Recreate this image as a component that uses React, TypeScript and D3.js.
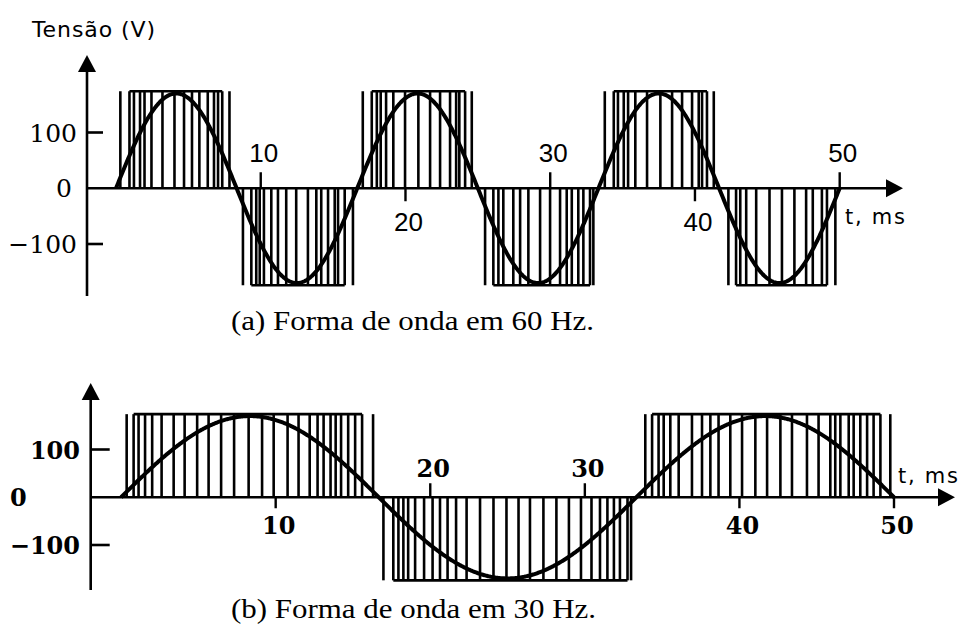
import React from 'react';
import * as d3 from 'd3';

const W = 967;
const H = 635;

// Time axis ticks (ms) and which side of the axis each tick/label sits on
const timeTicks = [10, 20, 30, 40, 50];
const tickSide60 = ['up', 'down', 'up', 'down', 'up'];
const tickSide30 = ['down', 'up', 'up', 'down', 'down'];
const voltTicks = [100, 0, -100];
const voltLabels = ['100', '0', '\u2212100'];

// Reference sine parameters
const SINE_AMP = 170; // V
const BUS_V = 174; // pulse height, V
const FREQ_60 = 60;
const FREQ_30 = 30;

// 60 Hz PWM: edge times (ms) for each half cycle
const pwm60Sign = [1, -1, 1, -1, 1, -1];
const pwm60Edges = [
  [0.30, 0.93, 1.24, 1.66, 1.97, 2.45, 3.21, 4.04, 4.70, 5.25, 5.76, 6.34, 6.77, 7.05, 7.34, 7.84],
  [8.77, 9.35, 9.69, 9.93, 10.22, 10.73, 11.19, 11.76, 12.45, 13.26, 13.84, 14.18, 14.65, 15.11, 15.34, 15.80, 16.37],
  [17.05, 17.67, 18.02, 18.29, 18.66, 19.16, 19.97, 20.89, 21.70, 22.39, 23.08, 23.50, 23.72, 24.12, 24.58],
  [25.50, 26.07, 26.42, 26.76, 27.45, 27.92, 28.49, 29.30, 29.99, 30.68, 31.14, 31.49, 31.94, 32.29, 32.75, 32.98],
  [33.77, 34.39, 34.68, 35.08, 35.38, 35.88, 36.69, 37.61, 38.42, 39.11, 39.80, 40.26, 40.49, 40.83, 41.30],
  [42.31, 42.84, 43.13, 43.54, 44.23, 45.15, 46.01, 46.87, 47.68, 48.14, 48.77, 49.12, 49.70],
];

// 30 Hz PWM: edge times (ms) for each half cycle
const pwm30Sign = [1, -1, 1];
const pwm30Edges = [
  [0.36, 0.81, 1.13, 1.55, 2.01, 2.62, 3.40, 4.11, 4.92, 5.66, 6.47, 7.31, 8.25, 9.12, 9.87, 10.77, 11.48, 12.20, 12.71, 13.10, 13.55, 13.88, 14.23, 14.69, 15.14, 15.59, 16.30],
  [16.97, 17.61, 17.94, 18.26, 18.57, 19.02, 19.60, 20.15, 20.63, 21.12, 21.67, 22.35, 23.22, 24.09, 24.93, 25.71, 26.45, 27.32, 28.16, 28.97, 29.75, 30.43, 30.98, 31.46, 31.88, 32.27, 32.76, 32.99],
  [33.91, 34.35, 34.77, 35.10, 35.53, 36.07, 36.93, 37.58, 38.12, 38.65, 39.41, 40.17, 41.03, 41.79, 42.65, 43.40, 44.37, 45.12, 45.88, 46.20, 46.53, 47.07, 47.39, 47.82, 48.26, 48.68, 49.12, 49.76],
];

type PanelProps = {
  x: d3.ScaleLinear<number, number>;
  y: d3.ScaleLinear<number, number>;
  freq: number;
  edges: number[][];
  signs: number[];
  tickSide: string[];
  axisX: number;
  yTop: number;
  yBottom: number;
  xEnd: number;
  tickUp: number;
  tickDown: number;
  labelUp: number;
  labelDown: number;
  yTickLen: number;
  yLabelRight: number;
  zeroLabelX: number;
  zeroAnchor: 'start' | 'end';
  yFont: React.CSSProperties;
  xFont: React.CSSProperties;
  tmsX: number;
  tmsY: number;
};

function Panel(p: PanelProps) {
  const { x, y } = p;
  const y0 = y(0);
  const sineData = d3.range(0, 50.001, 0.05);
  const line = d3
    .line<number>()
    .x((t) => x(t))
    .y((t) => y(SINE_AMP * Math.sin((2 * Math.PI * p.freq * t) / 1000)))
    .curve(d3.curveLinear);

  const ah = 9; // arrowhead half width
  const al = 17; // arrowhead length

  return (
    <g>
      {/* PWM pulses */}
      {p.edges.map((edges, i) => {
        const top = y(p.signs[i] * BUS_V);
        return (
          <g key={'pw' + i} stroke="#000" strokeWidth={2.6}>
            {edges.map((t, j) => (
              <line key={j} x1={x(t)} x2={x(t)} y1={y0} y2={top} />
            ))}
            <line x1={x(edges[1])} x2={x(edges[edges.length - 2])} y1={top} y2={top} strokeWidth={2.6} />
          </g>
        );
      })}

      {/* axes */}
      <g stroke="#000" strokeWidth={2.6} fill="none">
        <line x1={p.axisX} x2={p.axisX} y1={p.yBottom} y2={p.yTop + al - 2} />
        <line x1={p.axisX} x2={p.xEnd - al + 2} y1={y0} y2={y0} />
      </g>
      <path
        d={`M${p.axisX},${p.yTop} L${p.axisX - ah},${p.yTop + al} L${p.axisX + ah},${p.yTop + al} Z`}
        fill="#000"
      />
      <path d={`M${p.xEnd},${y0} L${p.xEnd - al},${y0 - ah} L${p.xEnd - al},${y0 + ah} Z`} fill="#000" />

      {/* sine reference */}
      <path d={line(sineData) || ''} fill="none" stroke="#000" strokeWidth={4} strokeLinejoin="round" />

      {/* voltage ticks */}
      {voltTicks.map((v, i) => (
        <g key={'v' + v}>
          {v !== 0 && (
            <line x1={p.axisX} x2={p.axisX + p.yTickLen} y1={y(v)} y2={y(v)} stroke="#000" strokeWidth={2.6} />
          )}
          <text
            x={v === 0 ? p.zeroLabelX : p.yLabelRight}
            y={y(v) + 9}
            textAnchor={v === 0 ? p.zeroAnchor : 'end'}
            style={p.yFont}
          >
            {voltLabels[i]}
          </text>
        </g>
      ))}

      {/* time ticks */}
      {timeTicks.map((t, i) => {
        const up = p.tickSide[i] === 'up';
        return (
          <g key={'t' + t}>
            <line
              x1={x(t)}
              x2={x(t)}
              y1={y0}
              y2={up ? y0 - p.tickUp : y0 + p.tickDown}
              stroke="#000"
              strokeWidth={2.4}
            />
            <text x={x(t) + 3} y={up ? y0 - p.labelUp : y0 + p.labelDown} textAnchor="middle" style={p.xFont}>
              {t}
            </text>
          </g>
        );
      })}
      <text x={p.tmsX} y={p.tmsY} style={{ fontFamily: 'DejaVu Sans', fontSize: 21 }} textLength={60}>
        t, ms
      </text>
    </g>
  );
}

export default function App() {
  const x60 = d3.scaleLinear().domain([0, 50]).range([116, 839.7]);
  const y60 = d3.scaleLinear().domain([-100, 100]).range([244, 132.5]);
  const x30 = d3.scaleLinear().domain([0, 50]).range([121.1, 894]);
  const y30 = d3.scaleLinear().domain([-100, 100]).range([545, 449.5]);

  const serifNum: React.CSSProperties = { fontFamily: 'DejaVu Serif', fontSize: 25 };
  const serifNumBold: React.CSSProperties = { fontFamily: 'DejaVu Serif', fontSize: 24, fontWeight: 'bold' };
  const xNum30: React.CSSProperties = { fontFamily: 'DejaVu Serif', fontSize: 24, fontWeight: 600 };
  const sansNum: React.CSSProperties = { fontFamily: 'Liberation Sans', fontSize: 26 };
  const caption: React.CSSProperties = { fontFamily: 'Liberation Serif', fontSize: 27 };

  return (
    <svg
      width={W}
      height={H}
      viewBox={`0 0 ${W} ${H}`}
      style={{ position: 'absolute', left: 0, top: 0, background: '#fff' }}
    >
      <rect width={W} height={H} fill="#fff" />
      <text x={32} y={37} style={{ fontFamily: 'DejaVu Sans', fontSize: 22 }} textLength={123}>
        Tensão (V)
      </text>

      <Panel
        x={x60}
        y={y60}
        freq={FREQ_60}
        edges={pwm60Edges}
        signs={pwm60Sign}
        tickSide={tickSide60}
        axisX={87}
        yTop={55}
        yBottom={296}
        xEnd={903}
        tickUp={16}
        tickDown={13}
        labelUp={26}
        labelDown={43}
        yTickLen={16}
        yLabelRight={77}
        zeroLabelX={72}
        zeroAnchor="end"
        yFont={serifNum}
        xFont={sansNum}
        tmsX={845}
        tmsY={224}
      />
      <text x={231} y={330} style={caption} textLength={363} lengthAdjust="spacingAndGlyphs">
        (a) Forma de onda em 60 Hz.
      </text>

      <Panel
        x={x30}
        y={y30}
        freq={FREQ_30}
        edges={pwm30Edges}
        signs={pwm30Sign}
        tickSide={tickSide30}
        axisX={90.7}
        yTop={383}
        yBottom={590}
        xEnd={955}
        tickUp={14}
        tickDown={11}
        labelUp={20}
        labelDown={37}
        yTickLen={19}
        yLabelRight={80}
        zeroLabelX={10}
        zeroAnchor="start"
        yFont={serifNumBold}
        xFont={xNum30}
        tmsX={898}
        tmsY={483}
      />
      <text x={231} y={618} style={caption} textLength={365} lengthAdjust="spacingAndGlyphs">
        (b) Forma de onda em 30 Hz.
      </text>
    </svg>
  );
}
